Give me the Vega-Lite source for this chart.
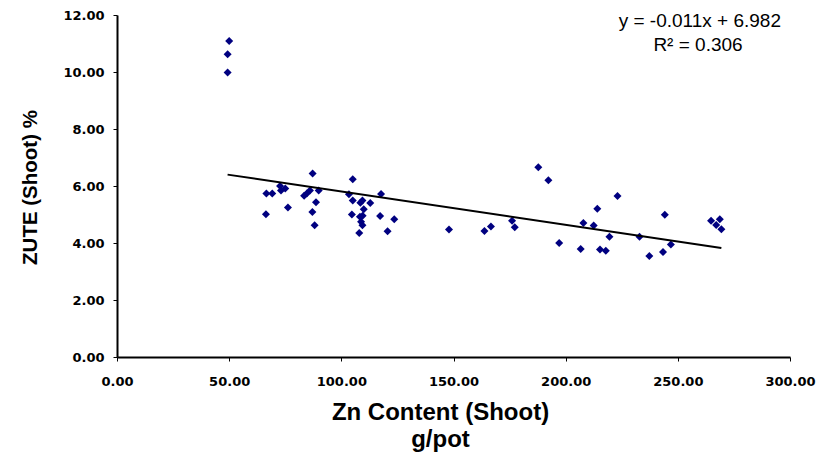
{
  "$schema": "https://vega.github.io/schema/vega-lite/v6.json",
  "autosize": "none",
  "width": 673,
  "height": 342,
  "padding": {"left": 117, "top": 15, "right": 26, "bottom": 115},
  "background": "white",
  "config": {
    "view": {"stroke": null},
    "font": "Liberation Sans"
  },
  "datasets": {
    "points": [
      {"zn": 50.0, "zute": 11.09}, {"zn": 49.3, "zute": 10.62}, {"zn": 49.3, "zute": 9.98},
      {"zn": 66.4, "zute": 5.01}, {"zn": 66.6, "zute": 5.74}, {"zn": 69.2, "zute": 5.74},
      {"zn": 72.7, "zute": 6.00}, {"zn": 73.1, "zute": 5.84}, {"zn": 75.0, "zute": 5.91},
      {"zn": 76.2, "zute": 5.25}, {"zn": 83.4, "zute": 5.66}, {"zn": 84.6, "zute": 5.74},
      {"zn": 86.0, "zute": 5.84}, {"zn": 87.2, "zute": 6.44}, {"zn": 89.9, "zute": 5.84},
      {"zn": 88.7, "zute": 5.43}, {"zn": 87.1, "zute": 5.09}, {"zn": 88.1, "zute": 4.62},
      {"zn": 103.4, "zute": 5.71}, {"zn": 105.1, "zute": 6.24}, {"zn": 105.1, "zute": 5.49},
      {"zn": 104.7, "zute": 5.00}, {"zn": 108.5, "zute": 5.41}, {"zn": 109.4, "zute": 5.49},
      {"zn": 110.0, "zute": 5.18}, {"zn": 109.5, "zute": 4.96}, {"zn": 108.3, "zute": 4.92},
      {"zn": 108.8, "zute": 4.75}, {"zn": 109.4, "zute": 4.62}, {"zn": 108.0, "zute": 4.35},
      {"zn": 112.9, "zute": 5.40}, {"zn": 117.7, "zute": 5.72}, {"zn": 117.3, "zute": 4.95},
      {"zn": 120.6, "zute": 4.41}, {"zn": 123.6, "zute": 4.83}, {"zn": 148.0, "zute": 4.47},
      {"zn": 163.8, "zute": 4.42}, {"zn": 166.7, "zute": 4.58}, {"zn": 176.1, "zute": 4.78},
      {"zn": 177.3, "zute": 4.55}, {"zn": 187.8, "zute": 6.66}, {"zn": 192.3, "zute": 6.20},
      {"zn": 197.1, "zute": 4.00}, {"zn": 206.7, "zute": 3.79}, {"zn": 207.9, "zute": 4.70},
      {"zn": 212.5, "zute": 4.61}, {"zn": 214.1, "zute": 5.20}, {"zn": 215.3, "zute": 3.77},
      {"zn": 217.9, "zute": 3.73}, {"zn": 219.5, "zute": 4.22}, {"zn": 223.1, "zute": 5.65},
      {"zn": 232.9, "zute": 4.22}, {"zn": 237.3, "zute": 3.54}, {"zn": 243.4, "zute": 3.68},
      {"zn": 244.2, "zute": 4.99}, {"zn": 246.9, "zute": 3.95}, {"zn": 264.8, "zute": 4.78},
      {"zn": 267.1, "zute": 4.63}, {"zn": 268.7, "zute": 4.83}, {"zn": 269.4, "zute": 4.48}
    ],
    "equation": [
      {"label": "y = -0.011x + 6.982"}
    ],
    "rsq": [
      {"label": "R² = 0.306"}
    ]
  },
  "layer": [
    {
      "data": {"name": "points"},
      "mark": {"type": "point", "shape": "diamond", "filled": true, "size": 64, "color": "#000080", "opacity": 1},
      "encoding": {
        "x": {
          "field": "zn", "type": "quantitative",
          "scale": {"domain": [0, 300], "nice": false, "zero": false},
          "axis": {
            "values": [0, 50, 100, 150, 200, 250, 300],
            "format": ".2f",
            "grid": false,
            "domainColor": "black", "domainWidth": 2,
            "tickColor": "black", "tickWidth": 1, "tickSize": 4,
            "labelFont": "DejaVu Sans", "labelFontWeight": "bold", "labelFontSize": 13, "labelColor": "black",
            "labelPadding": 14, "labelFlush": false, "labelOverlap": false,
            "title": ["Zn Content (Shoot)", "g/pot"],
            "titleFont": "Liberation Sans", "titleFontWeight": "bold", "titleFontSize": 24, "titleColor": "black",
            "titleLineHeight": 27,
            "titleX": 323, "titleY": 62, "titleBaseline": "alphabetic"
          }
        },
        "y": {
          "field": "zute", "type": "quantitative",
          "scale": {"domain": [0, 12], "nice": false, "zero": true},
          "axis": {
            "values": [0, 2, 4, 6, 8, 10, 12],
            "format": ".2f",
            "grid": false,
            "domainColor": "black", "domainWidth": 2,
            "tickColor": "black", "tickWidth": 1, "tickSize": 4,
            "labelFont": "DejaVu Sans", "labelFontWeight": "bold", "labelFontSize": 13, "labelColor": "black",
            "labelPadding": 9, "labelFlush": false, "labelOverlap": false,
            "title": "ZUTE (Shoot) %",
            "titleFont": "Liberation Sans", "titleFontWeight": "bold", "titleFontSize": 20.5, "titleColor": "black",
            "titleX": -87, "titleY": 172, "titleBaseline": "middle", "titleAngle": 270, "titleAlign": "center"
          }
        }
      }
    },
    {
      "data": {"name": "points"},
      "transform": [{"regression": "zute", "on": "zn", "extent": [49.3, 269.4]}],
      "mark": {"type": "line", "color": "black", "strokeWidth": 2},
      "encoding": {
        "x": {"field": "zn", "type": "quantitative"},
        "y": {"field": "zute", "type": "quantitative"}
      }
    },
    {
      "data": {"name": "equation"},
      "mark": {"type": "text", "font": "Liberation Sans", "fontSize": 19, "color": "black", "align": "center", "baseline": "middle"},
      "encoding": {
        "x": {"datum": 259.8},
        "y": {"datum": 11.78},
        "text": {"field": "label"}
      }
    },
    {
      "data": {"name": "rsq"},
      "mark": {"type": "text", "font": "Liberation Sans", "fontSize": 19, "color": "black", "align": "center", "baseline": "middle"},
      "encoding": {
        "x": {"datum": 259.0},
        "y": {"datum": 10.96},
        "text": {"field": "label"}
      }
    }
  ]
}
